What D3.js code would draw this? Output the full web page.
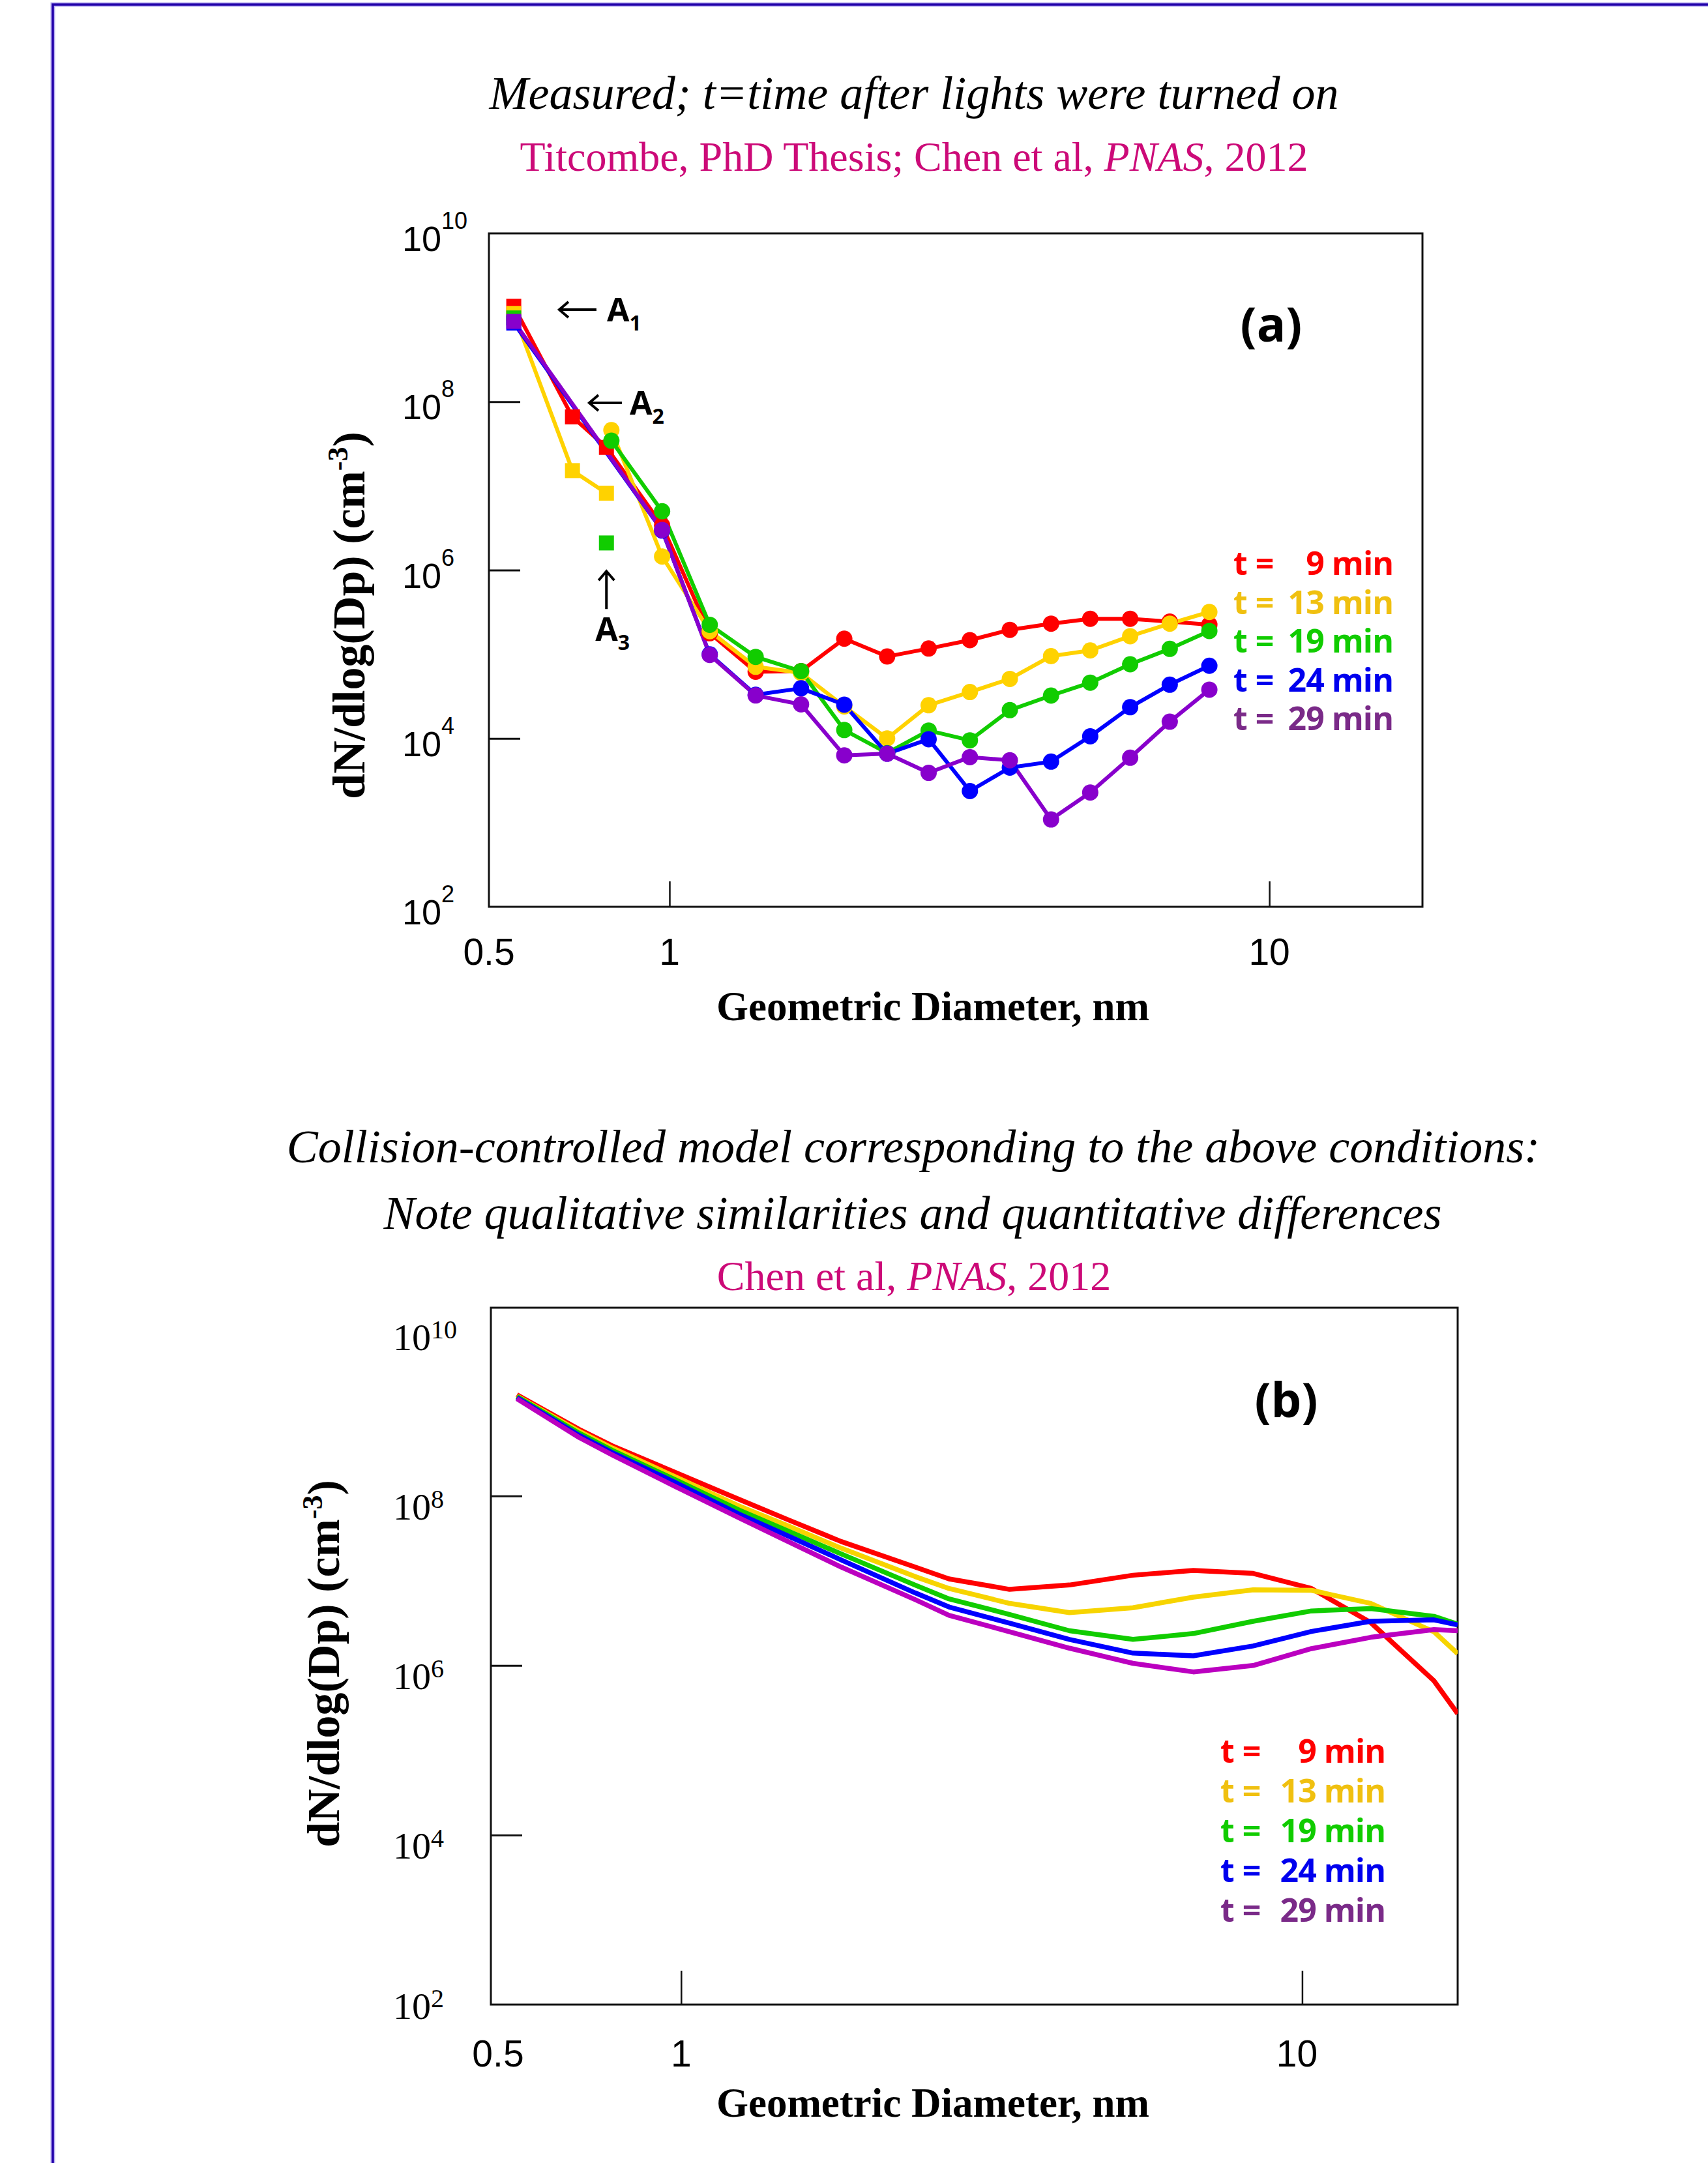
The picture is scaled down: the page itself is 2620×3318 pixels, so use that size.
<!DOCTYPE html>
<html>
<head>
<meta charset="utf-8">
<script src="https://cdn.jsdelivr.net/npm/d3@7"></script>
<style>
  body { margin: 0; background: #fff; }
  svg { display: block; }
  .serif { font-family: "Liberation Serif", "Times New Roman", serif; }
  .sans { font-family: "Liberation Sans", Arial, sans-serif; }
  .bsans { font-family: "Open Sans", "Noto Sans", sans-serif; font-weight: 700; }
</style>
</head>
<body>
<svg id="chart" width="2620" height="3318"></svg>
<script>
const times = [9, 13, 19, 24, 29];

// ---- panel (a): measured distributions ----
// squares = the A1 / A2 / A3 clusters
const dSquare = [0.55, 0.689, 0.785];
const squaresRed    = [1.36e9, 6.6e7, 2.87e7];
const squaresYellow = [1.12e9, 1.52e7, 8.2e6];
const squaresGreen  = [9.9e8, null, 2.1e6];
const squaresBlue   = [8.6e8, null, null];
const squaresPurple = [9.0e8, null, null];

const dCircle = [0.80, 0.972, 1.167, 1.392, 1.657, 1.956, 2.306, 2.704, 3.168, 3.693, 4.326, 5.028, 5.861, 6.823, 7.943];
const circlesRed    = [null, 3.4e6, 1.78e5, 6.2e4, 6.3e4, 1.53e5, 9.4e4, 1.17e5, 1.47e5, 1.95e5, 2.31e5, 2.64e5, 2.64e5, 2.44e5, 2.25e5];
const circlesYellow = [4.6e7, 1.45e6, 1.88e5, 7.1e4, 6.0e4, 2.4e4, 1.0e4, 2.48e4, 3.56e4, 5.1e4, 9.5e4, 1.11e5, 1.64e5, 2.31e5, 3.18e5];
const circlesGreen  = [3.44e7, 5.0e6, 2.24e5, 9.3e4, 6.3e4, 1.26e4, 6.7e3, 1.24e4, 9.5e3, 2.17e4, 3.23e4, 4.6e4, 7.6e4, 1.16e5, 1.89e5];
const circlesBlue   = [null, 2.95e6, 1.0e5, 3.3e4, 3.94e4, 2.52e4, 6.6e3, 9.8e3, 2.37e3, 4.5e3, 5.3e3, 1.06e4, 2.35e4, 4.35e4, 7.3e4];
const circlesPurple = [null, 3.0e6, 9.8e4, 3.24e4, 2.54e4, 6.3e3, 6.6e3, 3.9e3, 6.0e3, 5.5e3, 1.09e3, 2.28e3, 5.9e3, 1.58e4, 3.8e4];
// does the circle curve continue from the last square?
const joinedA = [true, false, false, true, true];

// ---- panel (b): collision-controlled model ----
const dModel = [0.544, 0.685, 0.775, 0.979, 1.24, 1.49, 1.81, 2.38, 2.70, 3.38, 4.22, 5.34, 6.68, 8.34, 10.35, 12.9, 16.3, 17.8];
const modelRed    = [1.56e9, 6.1e8, 3.9e8, 1.89e8, 9.1e7, 5.2e7, 2.9e7, 1.45e7, 1.05e7, 7.9e6, 8.9e6, 1.16e7, 1.32e7, 1.22e7, 8.1e6, 3.2e6, 6.6e5, 2.7e5];
const modelYellow = [1.51e9, 5.8e8, 3.67e8, 1.68e8, 7.6e7, 4.4e7, 2.42e7, 1.12e7, 8.1e6, 5.4e6, 4.2e6, 4.8e6, 6.4e6, 7.8e6, 7.7e6, 5.4e6, 2.5e6, 1.38e6];
const modelGreen  = [1.49e9, 5.5e8, 3.45e8, 1.55e8, 6.8e7, 3.83e7, 2.07e7, 8.9e6, 6.1e6, 4.0e6, 2.57e6, 2.03e6, 2.38e6, 3.32e6, 4.4e6, 4.7e6, 3.8e6, 3.07e6];
const modelBlue   = [1.44e9, 5.2e8, 3.24e8, 1.44e8, 6.1e7, 3.35e7, 1.76e7, 7.2e6, 4.9e6, 3.16e6, 2.03e6, 1.4e6, 1.3e6, 1.7e6, 2.52e6, 3.32e6, 3.45e6, 3.01e6];
const modelPurple = [1.4e9, 4.9e8, 3.04e8, 1.29e8, 5.5e7, 2.88e7, 1.45e7, 6.0e6, 3.9e6, 2.5e6, 1.6e6, 1.06e6, 8.4e5, 1.0e6, 1.58e6, 2.15e6, 2.65e6, 2.57e6];

const xTicks = [0.5, 1, 10];
const yLabels = [1e2, 1e4, 1e6, 1e8, 1e10];

const colorsA = ["#ff0000", "#ffd200", "#11cc00", "#0000ff", "#8800cc"];
const colorsB = ["#ff0000", "#f7d400", "#11cc00", "#0000ff", "#bb00c0"];
const legendColors = ["#ff0000", "#f0c010", "#11cc00", "#0000ee", "#7a2a88"];

const svg = d3.select("#chart");

// page border
svg.append("path").attr("d", "M81,3318V7H2620")
  .attr("fill", "none").attr("stroke", "#b8b0f0").attr("stroke-width", 7);
svg.append("path").attr("d", "M81,3318V7H2620")
  .attr("fill", "none").attr("stroke", "#2200aa").attr("stroke-width", 3.5);

function centered(txt, x, y, size, cls, fill, italic) {
  return svg.append("text").attr("class", cls).attr("x", x).attr("y", y)
    .attr("text-anchor", "middle").attr("font-size", size)
    .attr("font-style", italic ? "italic" : null)
    .attr("fill", fill).text(txt);
}

function superLabel(g, x, y, size, cls, base, sup, supSize, rise) {
  const t = g.append("text").attr("class", cls).attr("x", x).attr("y", y).attr("font-size", size);
  t.append("tspan").text(base);
  t.append("tspan").attr("font-size", supSize).attr("dy", -rise).text(sup);
  return t;
}

function yTitle(x, y) {
  const t = svg.append("text").attr("class", "serif").attr("font-weight", "bold")
    .attr("font-size", 70).attr("text-anchor", "middle")
    .attr("transform", `translate(${x},${y}) rotate(-90)`);
  t.append("tspan").text("dN/dlog(Dp) (cm");
  t.append("tspan").attr("font-size", 44).attr("dy", -26).text("-3");
  t.append("tspan").attr("dy", 26).text(")");
}

function frame(g, x, y, yTickVals, tickLenY, tickLenX) {
  const [x0, x1] = x.range(), [y0, y1] = y.range();
  g.append("rect").attr("x", x0).attr("y", y1).attr("width", x1 - x0).attr("height", y0 - y1)
    .attr("fill", "none").attr("stroke", "#111").attr("stroke-width", 3);
  g.append("g").attr("transform", `translate(${x0},0)`)
    .call(d3.axisLeft(y).tickValues(yTickVals).tickSize(-tickLenY).tickFormat(""))
    .call(a => a.select(".domain").remove())
    .call(a => a.selectAll("line").attr("stroke", "#111").attr("stroke-width", 3));
  g.append("g").attr("transform", `translate(0,${y0})`)
    .call(d3.axisBottom(x).tickValues([1, 10]).tickSize(-tickLenX).tickFormat(""))
    .call(a => a.select(".domain").remove())
    .call(a => a.selectAll("line").attr("stroke", "#111").attr("stroke-width", 2.5));
}

// one text element per row: "t =" flush left, "N min" flush right
function legend(g, x0, x1, yStart, step) {
  times.forEach((t, i) => {
    const row = g.append("text").attr("class", "bsans").attr("y", yStart + i * step)
      .attr("font-size", 50).attr("fill", legendColors[i]);
    row.append("tspan").attr("x", x0).attr("letter-spacing", -0.5).text("t =");
    row.append("tspan").attr("x", x1).attr("text-anchor", "end").attr("letter-spacing", -1)
      .text(`${t} min`);
  });
}

// ================= panel (a) =================
centered("Measured; t=time after lights were turned on", 1402, 167, 72, "serif", "#000", true);
const sub1 = centered("", 1402, 262, 64, "serif", "#cc0a78", false);
sub1.append("tspan").text("Titcombe, PhD Thesis; Chen et al, ");
sub1.append("tspan").attr("font-style", "italic").text("PNAS");
sub1.append("tspan").text(", 2012");

const xA = d3.scaleLog().domain([0.5, 18]).range([750, 2182]);
const yA = d3.scaleLog().domain([1e2, 1e10]).range([1391, 358]);
const gA = svg.append("g");
frame(gA, xA, yA, [1e4, 1e6, 1e8], 48, 39);

gA.selectAll(".xl").data(xTicks).join("text").attr("class", "sans")
  .attr("x", d => xA(d)).attr("y", 1480).attr("text-anchor", "middle")
  .attr("font-size", 57).text(d => d);
yLabels.forEach(v => superLabel(gA, 617, yA(v) + 27, 54, "sans", "10",
  String(Math.round(Math.log10(v))), 36, 34));

centered("Geometric Diameter, nm", 1431, 1565, 63, "serif", "#000", false).attr("font-weight", "bold");
yTitle(559, 944);

const squaresA = [squaresRed, squaresYellow, squaresGreen, squaresBlue, squaresPurple];
const circlesA = [circlesRed, circlesYellow, circlesGreen, circlesBlue, circlesPurple];
const lineA = d3.line().defined(d => d.v != null).x(d => xA(d.d)).y(d => yA(d.v));

const seriesA = squaresA.map((sq, i) => ({
  sPts: dSquare.map((d, j) => ({ d, v: sq[j] })),
  cPts: dCircle.map((d, j) => ({ d, v: circlesA[i][j] }))
}));

// lines first, markers on top
const gLinesA = gA.append("g"), gMarksA = gA.append("g");
seriesA.forEach(({ sPts, cPts }, i) => {
  const paths = joinedA[i]
    ? [sPts.filter(p => p.v != null).concat(cPts.filter(p => p.v != null))]
    : [sPts, cPts];
  paths.forEach(p => gLinesA.append("path").attr("d", lineA(p)).attr("fill", "none")
    .attr("stroke", colorsA[i]).attr("stroke-width", 6).attr("stroke-linejoin", "round"));
});
seriesA.forEach(({ sPts, cPts }, i) => {
  const g = gMarksA.append("g").attr("fill", colorsA[i]);
  g.selectAll("rect").data(sPts.filter(p => p.v != null)).join("rect")
    .attr("x", d => xA(d.d) - 11.5).attr("y", d => yA(d.v) - 11.5)
    .attr("width", 23).attr("height", 23);
  g.selectAll("circle").data(cPts.filter(p => p.v != null)).join("circle")
    .attr("cx", d => xA(d.d)).attr("cy", d => yA(d.v)).attr("r", 12.5);
});

// A1, A2, A3 annotations
function hArrow(x, y, len) {
  gA.append("path").attr("d", `M${x + len},${y}H${x}M${x + 14},${y - 12}L${x},${y}L${x + 14},${y + 12}`)
    .attr("fill", "none").attr("stroke", "#000").attr("stroke-width", 4);
}
function aLabel(x, y, n) {
  const t = gA.append("text").attr("class", "bsans").attr("x", x).attr("y", y).attr("font-size", 50);
  t.append("tspan").text("A");
  t.append("tspan").attr("font-size", 32).attr("dy", 14).text(n);
}
hArrow(xA(0.655), yA(1.24e9), 57);
aLabel(xA(0.655) + 73, yA(1.24e9) + 18, "1");
hArrow(xA(0.735), yA(9.7e7), 50);
aLabel(xA(0.735) + 62, yA(9.7e7) + 18, "2");
const a3x = xA(0.785), a3y = yA(9.7e5);
gA.append("path").attr("d", `M${a3x},${a3y + 58}V${a3y}M${a3x - 12},${a3y + 14}L${a3x},${a3y}L${a3x + 12},${a3y + 14}`)
  .attr("fill", "none").attr("stroke", "#000").attr("stroke-width", 4);
aLabel(a3x - 17, a3y + 107, "3");

gA.append("text").attr("class", "bsans").attr("x", 1950).attr("y", 524)
  .attr("text-anchor", "middle").attr("font-size", 74).text("(a)");
legend(gA, 1892, 2137, 882, 59.5);

// ================= panel (b) =================
centered("Collision-controlled model corresponding to the above conditions:", 1401, 1783, 72, "serif", "#000", true);
centered("Note qualitative similarities and quantitative differences", 1400, 1885, 72, "serif", "#000", true);
const sub2 = centered("", 1402, 1979, 64, "serif", "#cc0a78", false);
sub2.append("tspan").text("Chen et al, ");
sub2.append("tspan").attr("font-style", "italic").text("PNAS");
sub2.append("tspan").text(", 2012");

const xB = d3.scaleLog().domain([0.494, 17.8]).range([753, 2236]);
const yB = d3.scaleLog().domain([1e2, 1.66e10]).range([3075, 2006]);
const gB = svg.append("g");
frame(gB, xB, yB, [1e4, 1e6, 1e8], 48, 52);

gB.selectAll(".xl").data(xTicks).join("text").attr("class", "sans")
  .attr("x", d => xB(d) + (d === 0.5 ? 6 : d === 10 ? -8 : 0)).attr("y", 3170).attr("text-anchor", "middle")
  .attr("font-size", 57).text(d => d);
yLabels.forEach(v => superLabel(gB, 603, yB(v) + (v === 1e2 ? 22 : 36), 58, "serif", "10",
  String(Math.round(Math.log10(v))), 40, 18));

centered("Geometric Diameter, nm", 1431, 3247, 63, "serif", "#000", false).attr("font-weight", "bold");
yTitle(520, 2552);

svg.append("clipPath").attr("id", "clipB").append("rect")
  .attr("x", 753).attr("y", 2006).attr("width", 2236 - 753).attr("height", 3075 - 2006);
const modelsB = [modelRed, modelYellow, modelGreen, modelBlue, modelPurple];
const lineB = d3.line().x(d => xB(d.d)).y(d => yB(d.v));
const gLines = gB.append("g").attr("clip-path", "url(#clipB)");
modelsB.forEach((m, i) => {
  gLines.append("path").attr("d", lineB(dModel.map((d, j) => ({ d, v: m[j] }))))
    .attr("fill", "none").attr("stroke", colorsB[i]).attr("stroke-width", 7.5)
    .attr("stroke-linejoin", "round");
});

gB.append("text").attr("class", "bsans").attr("x", 1973).attr("y", 2174)
  .attr("text-anchor", "middle").attr("font-size", 74).text("(b)");
legend(gB, 1872, 2125, 2704, 61);
</script>
</body>
</html>
